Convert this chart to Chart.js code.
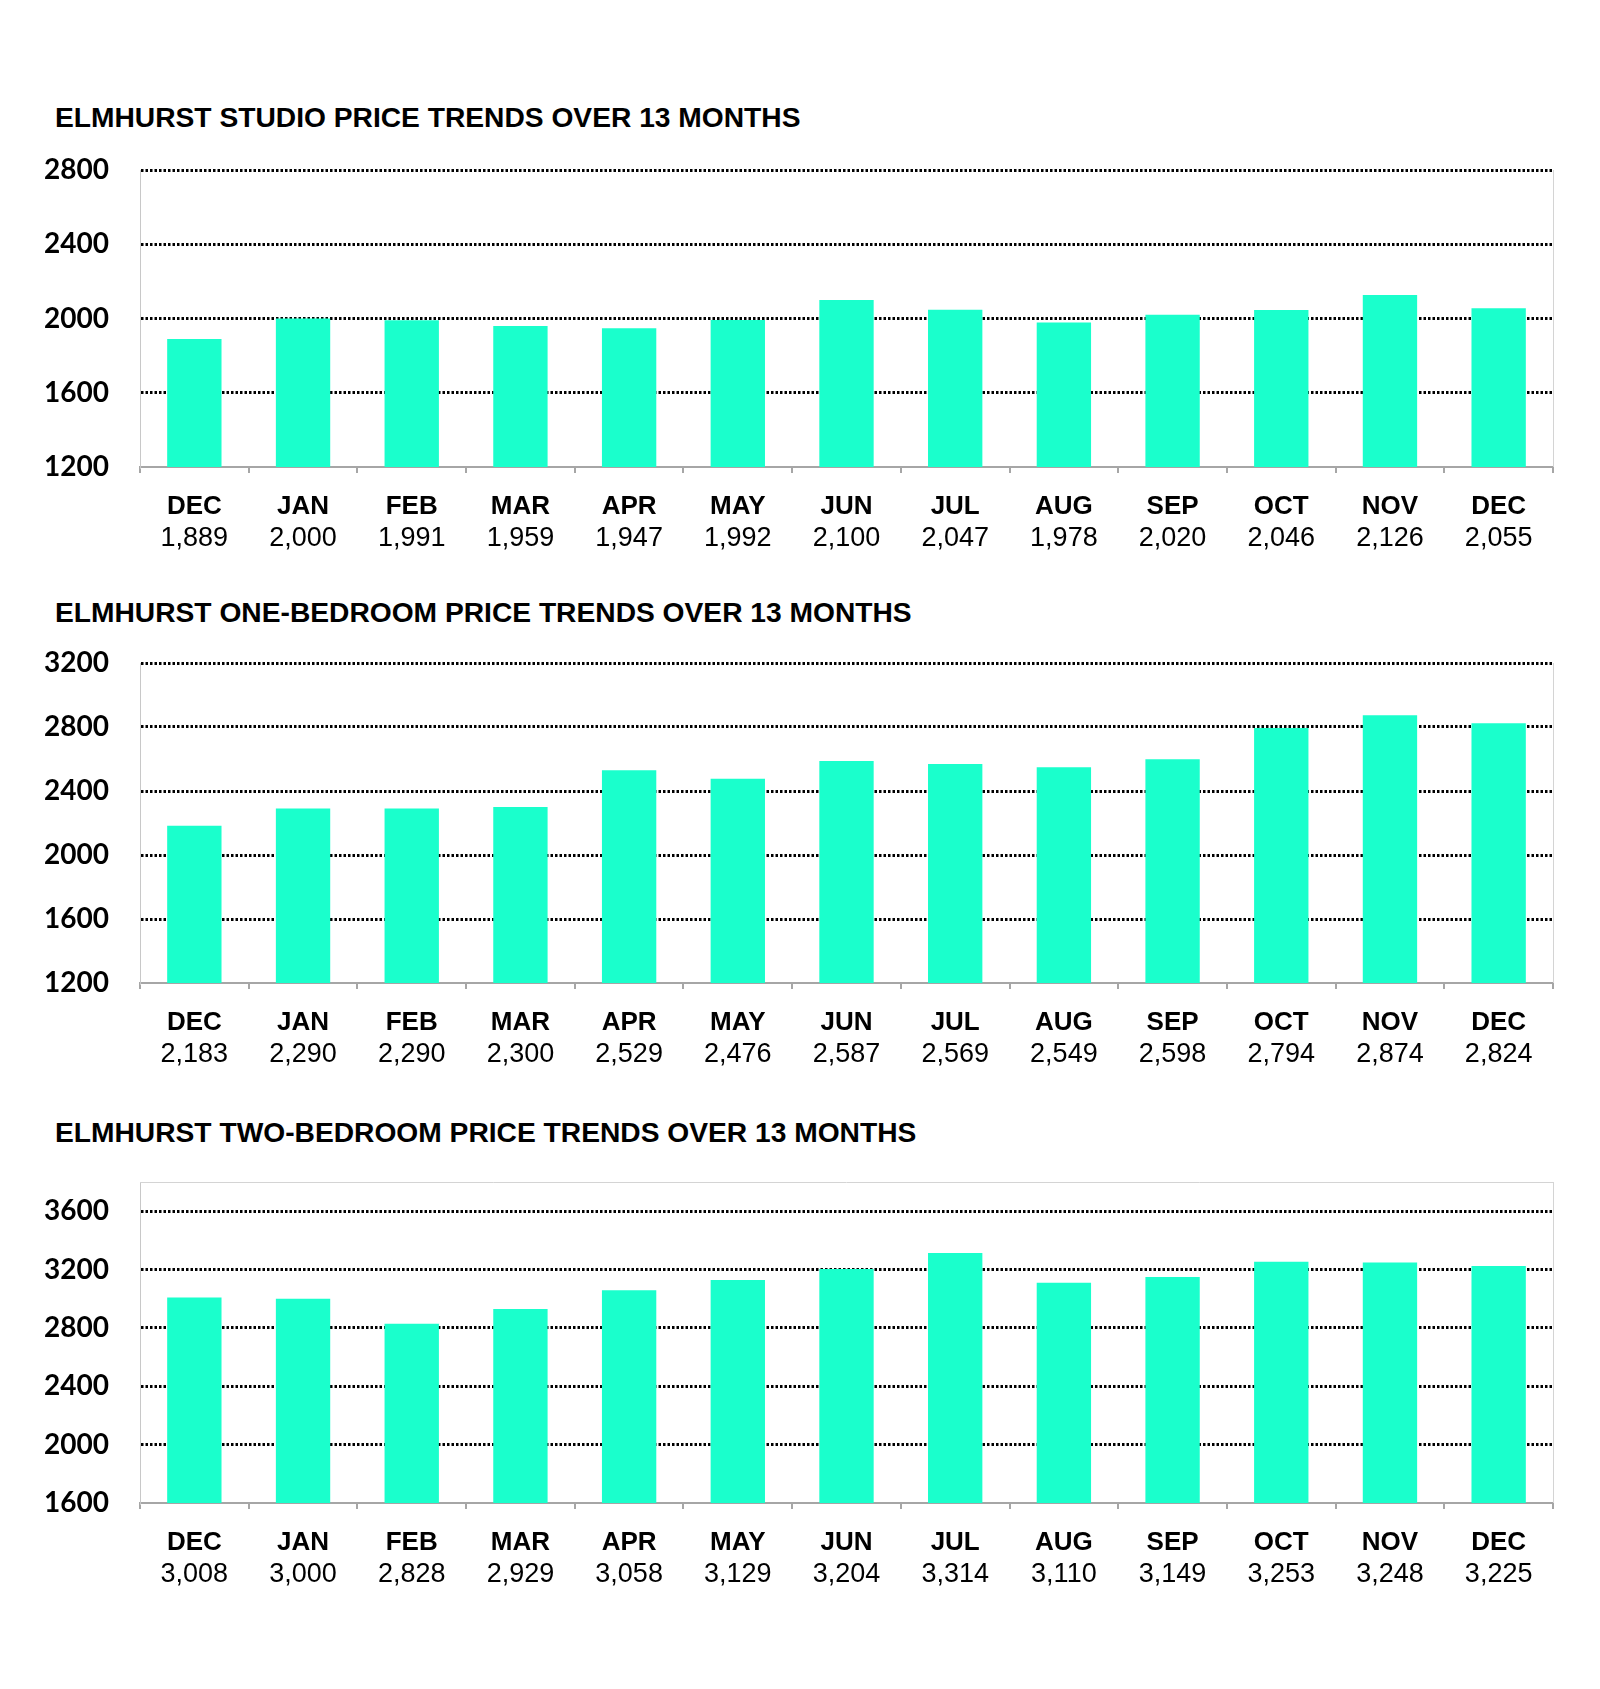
<!DOCTYPE html>
<html>
<head>
<meta charset="utf-8">
<script src="https://cdn.jsdelivr.net/npm/chart.js@4.4.1/dist/chart.umd.min.js"></script>
<style>
  html, body { margin: 0; padding: 0; background: #fff; }
  #page { position: relative; width: 1600px; height: 1689px; }
  .title { position: absolute; left: 55px; font: bold 28.2px "Liberation Sans", Arial, sans-serif; line-height: 28px; color: #000; white-space: nowrap; }
  canvas { position: absolute; left: 0; }
</style>
</head>
<body>
<div id="page">
  <div class="title" style="top:103px">ELMHURST STUDIO PRICE TRENDS OVER 13 MONTHS</div>
  <canvas id="studio" width="1600" height="432" style="top:130px"></canvas>
  <div class="title" style="top:598px">ELMHURST ONE-BEDROOM PRICE TRENDS OVER 13 MONTHS</div>
  <canvas id="oneBed" width="1600" height="455" style="top:623px"></canvas>
  <div class="title" style="top:1118px">ELMHURST TWO-BEDROOM PRICE TRENDS OVER 13 MONTHS</div>
  <canvas id="twoBed" width="1600" height="456" style="top:1142px"></canvas>
</div>
<script>
const months = ["DEC", "JAN", "FEB", "MAR", "APR", "MAY", "JUN", "JUL", "AUG", "SEP", "OCT", "NOV", "DEC"];
const studioPrices = [1889, 2000, 1991, 1959, 1947, 1992, 2100, 2047, 1978, 2020, 2046, 2126, 2055];
const oneBedPrices = [2183, 2290, 2290, 2300, 2529, 2476, 2587, 2569, 2549, 2598, 2794, 2874, 2824];
const twoBedPrices = [3008, 3000, 2828, 2929, 3058, 3129, 3204, 3314, 3110, 3149, 3253, 3248, 3225];
const studioTicks = [1200, 1600, 2000, 2400, 2800];
const oneBedTicks = [1200, 1600, 2000, 2400, 2800, 3200];
const twoBedTicks = [1600, 2000, 2400, 2800, 3200, 3600];

const barColor = "#1AFFCC";

// light grey frame on the right (and optionally top) of the plot area
const framePlugin = {
    id: "frame",
    afterDraw(chart, args, opts) {
        const a = chart.chartArea, ctx = chart.ctx;
        ctx.save();
        ctx.strokeStyle = "#d4d4d4";
        ctx.lineWidth = 1;
        ctx.beginPath();
        ctx.moveTo(a.right + 0.5, a.top);
        ctx.lineTo(a.right + 0.5, a.bottom);
        if (opts.top) {
            ctx.moveTo(a.left, a.top + 0.5);
            ctx.lineTo(a.right, a.top + 0.5);
        }
        ctx.stroke();
        ctx.restore();
    },
};

function makeChart(id, values, ticks, max, frameTop) {
    const min = ticks[0];
    return new Chart(document.getElementById(id), {
        type: "bar",
        data: {
            labels: months,
            datasets: [{ data: values, backgroundColor: barColor, barPercentage: 0.5, categoryPercentage: 1.0 }],
        },
        plugins: [framePlugin],
        options: {
            responsive: false,
            animation: false,
            layout: { padding: { top: 40, right: 47, left: 0, bottom: 0 } },
            plugins: { legend: { display: false }, tooltip: { enabled: false }, frame: { top: frameTop } },
            scales: {
                x: {
                    weight: 0,
                    grid: { display: true, drawOnChartArea: false, drawTicks: true, tickLength: 6, color: "#a6a6a6", lineWidth: 2 },
                    border: { display: true, color: "#a6a6a6", width: 2 },
                    ticks: { color: "#000", padding: 18, maxRotation: 0, autoSkip: false, font: { family: "Liberation Sans", size: 26, weight: "bold" } },
                    afterFit: (s) => { s.height = 55; },
                },
                x2: {
                    type: "category",
                    position: "bottom",
                    weight: 1,
                    offset: true,
                    labels: values.map((v) => v.toLocaleString("en-US")),
                    grid: { display: false, drawTicks: false },
                    border: { display: false },
                    ticks: { color: "#000", padding: 0, maxRotation: 0, autoSkip: false, font: { family: "Liberation Sans", size: 27 } },
                    afterFit: (s) => { s.height = 40; },
                },
                y: {
                    min: min,
                    max: max,
                    afterBuildTicks: (s) => { s.ticks = ticks.map((v) => ({ value: v })); },
                    grid: {
                        drawTicks: true,
                        tickLength: 31,
                        tickColor: "rgba(0,0,0,0)",
                        color: (c) => (c.tick && c.tick.value === min ? "rgba(0,0,0,0)" : "#000"),
                        lineWidth: 3,
                    },
                    // in v4 border.dash styles the grid lines
                    border: { display: true, color: "#c8c8c8", width: 1, dash: [2.5, 2] },
                    ticks: {
                        color: "#000",
                        padding: 0,
                        font: { family: "Lato", size: 28, weight: "bold" },
                        callback: (v) => String(v),
                    },
                    afterFit: (s) => { s.width = 140; },
                },
            },
        },
    });
}

makeChart("studio", studioPrices, studioTicks, 2800, false);
makeChart("oneBed", oneBedPrices, oneBedTicks, 3200, false);
makeChart("twoBed", twoBedPrices, twoBedTicks, 3800, true);
</script>
</body>
</html>
